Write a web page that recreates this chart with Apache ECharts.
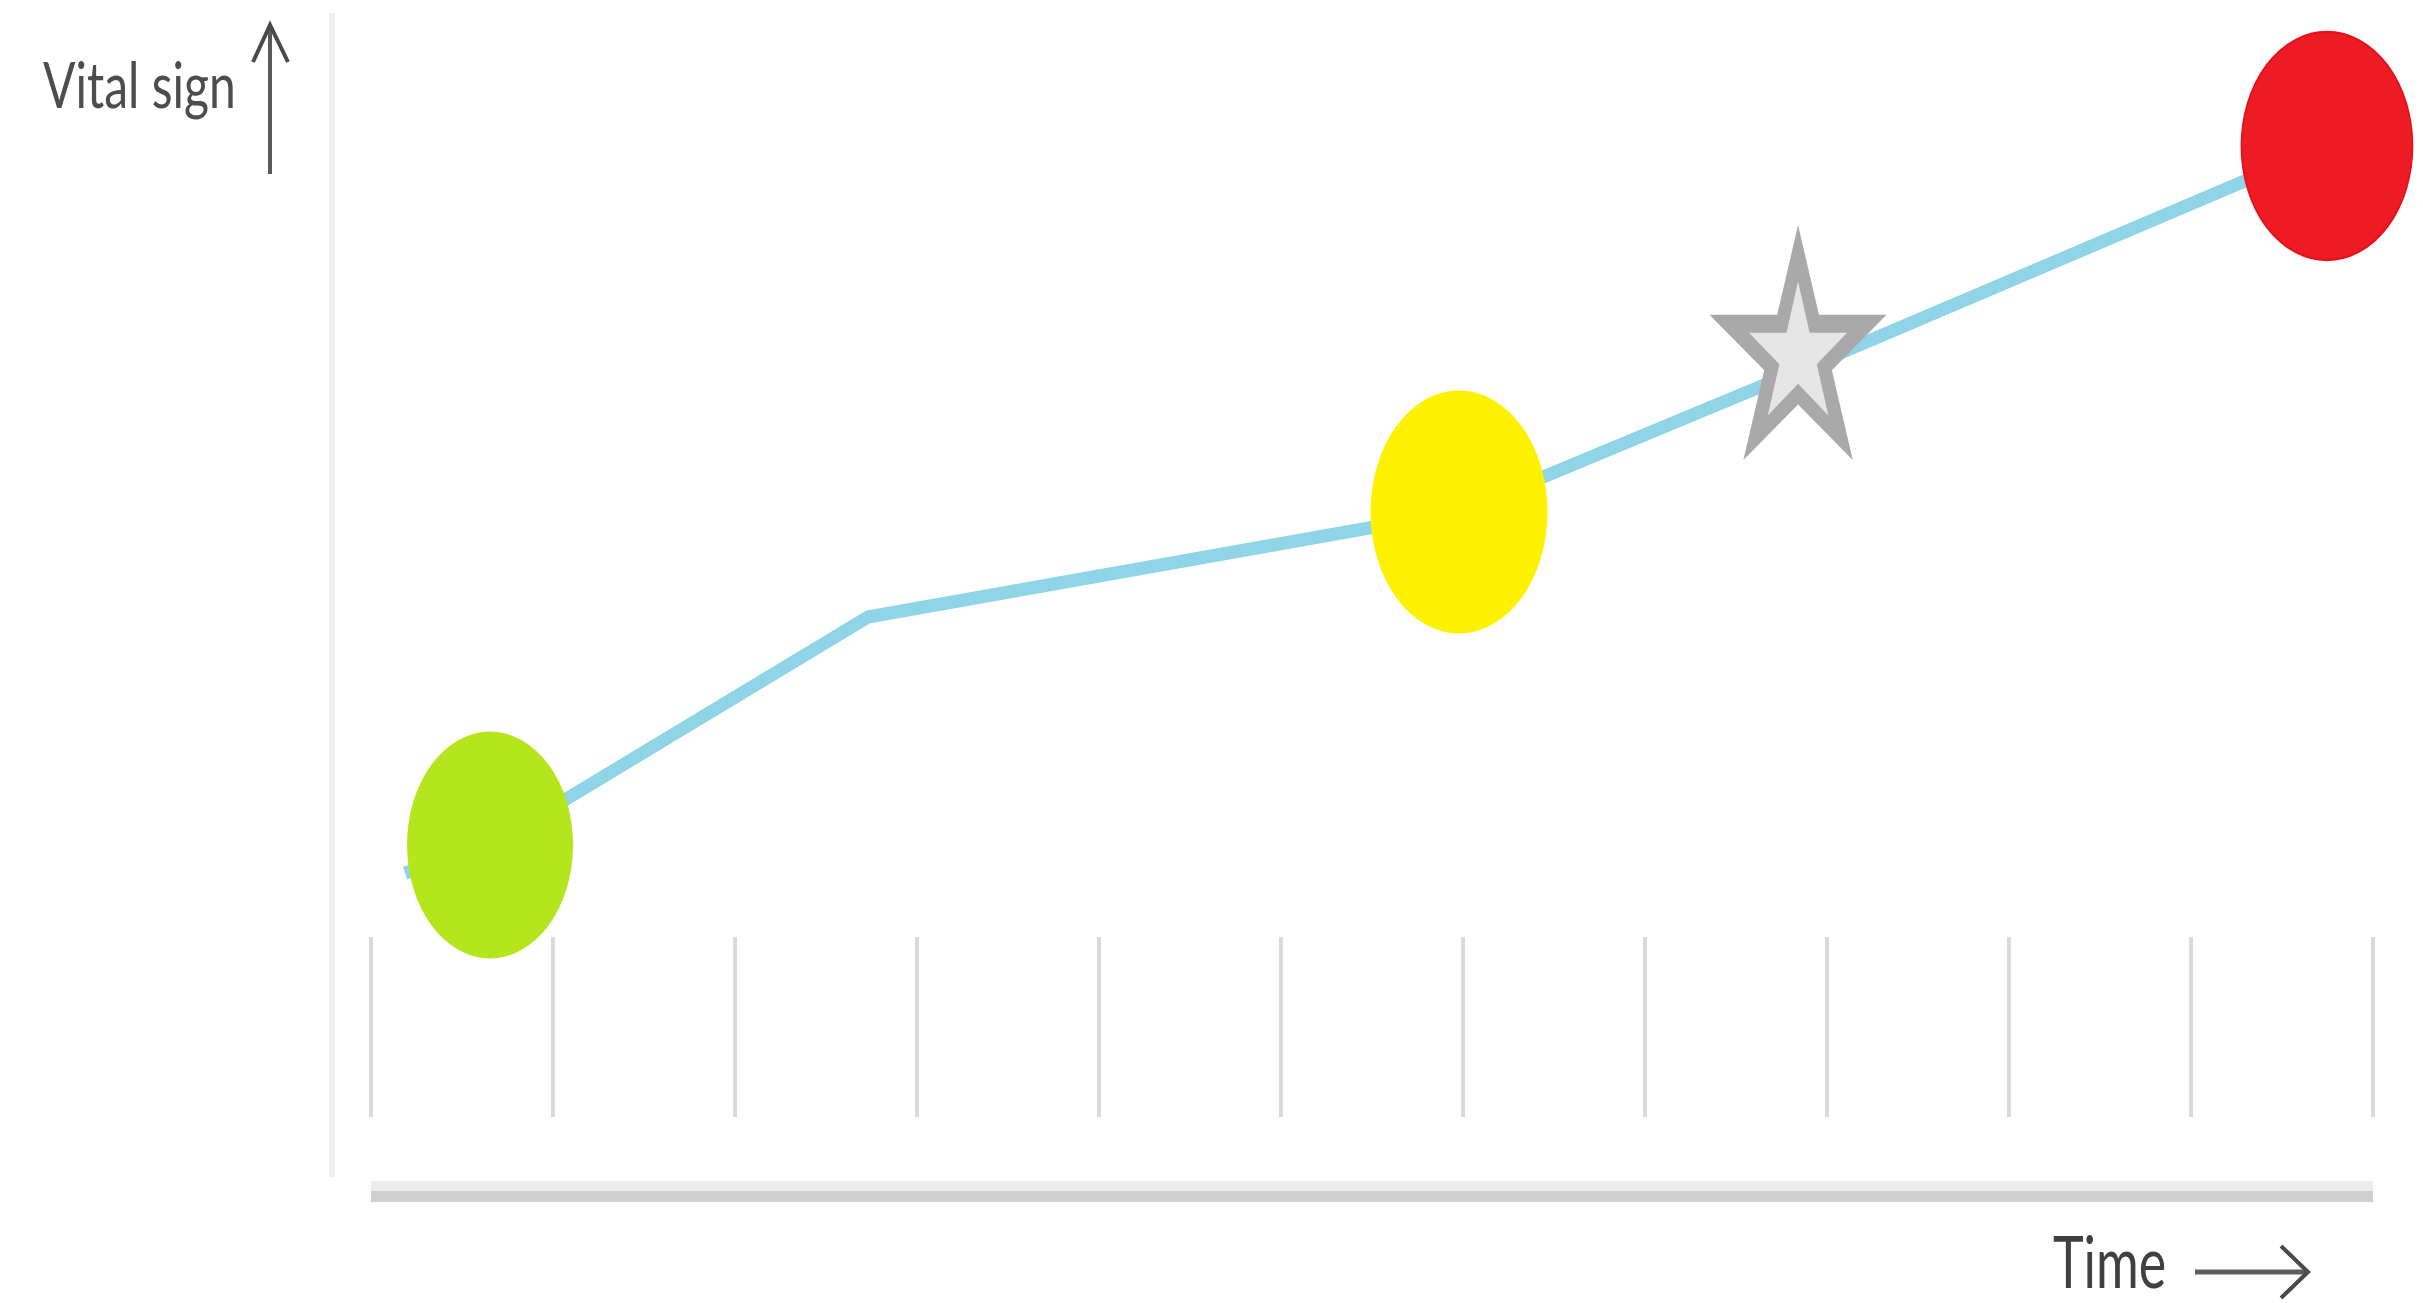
<!DOCTYPE html>
<html>
<head>
<meta charset="utf-8">
<script src="https://cdn.jsdelivr.net/npm/echarts@6/dist/echarts.min.js"></script>
<style>
  html, body { margin: 0; padding: 0; background: #ffffff; }
  #chart { width: 2423px; height: 1303px; }
</style>
</head>
<body>
<div id="chart"></div>
<script>
// ---- data ----
// time in tick units (12 ticks, 0..11), vital sign in arbitrary units
const timeValues  = [0.187, 0.654, 2.731, 5.978, 7.841, 10.747];
const vitalValues = [31.8, 34.6, 57.4, 67.9, 82.0, 104.5];
// event markers: indices into the trend line
const greenIndex = 1;
const yellowIndex = 3;
const redIndex = 5;
// star marker (event)
const starTime = [7.841];
const starVital = [84.85];
// axis titles
const yTitle = 'Vital sign';
const xTitle = 'Time';
const timeTicks = [0, 1, 2, 3, 4, 5, 6, 7, 8, 9, 10, 11];

const ellipsePath = 'path://M0,-100 A100,100 0 1,1 0,100 A100,100 0 1,1 0,-100 Z';
const starPath = 'path://M0,-1000 L224.5,-309 L951,-309 L363.3,118 L587.8,809 L0,382 L-587.8,809 L-363.3,118 L-951,-309 L-224.5,-309 Z';

const linePoints = timeValues.map((t, i) => [t, vitalValues[i]]);
const pt = i => [[timeValues[i], vitalValues[i]]];
const starPoints = starTime.map((t, i) => [t, starVital[i]]);

const chart = echarts.init(document.getElementById('chart'), null, { renderer: 'canvas' });

const option = {
  animation: false,
  backgroundColor: '#ffffff',
  grid: [
    { left: 371, right: 50, top: 91, bottom: 112 },
    { left: 332, top: 13, bottom: 126, width: 10 }
  ],
  xAxis: [
    { // main axis: light part of the thick bar
      gridIndex: 0, type: 'value', min: timeTicks[0], max: timeTicks[timeTicks.length - 1], interval: 1,
      position: 'bottom',
      axisLine: { show: true, lineStyle: { color: '#ececec', width: 20, cap: 'butt' } },
      axisTick: { show: false }, axisLabel: { show: false }, splitLine: { show: false }
    },
    { // tick marks
      gridIndex: 0, type: 'value', min: timeTicks[0], max: timeTicks[timeTicks.length - 1], interval: 1,
      position: 'bottom', offset: -74,
      axisLine: { show: false },
      axisTick: { show: true, inside: true, length: 180, lineStyle: { color: '#dadada', width: 4 } },
      axisLabel: { show: false }, splitLine: { show: false }
    },
    { // dark core of the thick bar
      gridIndex: 0, type: 'value', min: timeTicks[0], max: timeTicks[timeTicks.length - 1], interval: 1,
      position: 'bottom', offset: 5,
      axisLine: { show: true, lineStyle: { color: '#cfcfcf', width: 11, cap: 'butt' } },
      axisTick: { show: false }, axisLabel: { show: false }, splitLine: { show: false }
    },
    { gridIndex: 1, type: 'value', show: false }
  ],
  yAxis: [
    { gridIndex: 0, type: 'value', min: 0, max: 110, show: false },
    {
      gridIndex: 1, type: 'value', min: 0, max: 1,
      axisLine: { show: true, lineStyle: { color: '#efefef', width: 6, cap: 'butt' } },
      axisTick: { show: false }, axisLabel: { show: false }, splitLine: { show: false }
    }
  ],
  series: [
    {
      type: 'line', xAxisIndex: 0, yAxisIndex: 0, data: linePoints,
      symbol: 'none', lineStyle: { color: '#90d4e8', width: 13, join: 'round' },
      silent: true, z: 2
    },
    {
      type: 'scatter', data: pt(greenIndex), symbol: ellipsePath, symbolSize: [166, 227],
      itemStyle: { color: '#b5e61d', opacity: 1 }, silent: true, z: 3
    },
    {
      type: 'scatter', data: pt(yellowIndex), symbol: ellipsePath, symbolSize: [177, 243],
      itemStyle: { color: '#fff200', opacity: 1 }, silent: true, z: 3
    },
    {
      type: 'scatter', data: pt(redIndex), symbol: ellipsePath, symbolSize: [171, 228],
      itemStyle: { color: '#ed1c24', borderColor: '#e8101a', borderWidth: 2, opacity: 1 }, silent: true, z: 3
    },
    {
      type: 'scatter', data: starPoints, symbol: starPath, symbolSize: [177, 235],
      itemStyle: { color: '#a9a9a9', opacity: 1 }, silent: true, z: 4
    },
    {
      type: 'scatter', data: starPoints, symbol: starPath, symbolSize: [98, 134], symbolOffset: [0, 6],
      itemStyle: { color: '#e6e6e6', opacity: 1 }, silent: true, z: 5
    }
  ],
  graphic: [
    {
      type: 'text', x: 43, y: 55, scaleY: 1.33, silent: true,
      style: { text: yTitle, font: '48px Lato', fill: '#4d4d4d' }
    },
    {
      type: 'text', x: 2053, y: 1230, scaleY: 1.36, silent: true,
      style: { text: xTitle, font: '52px Lato', fill: '#404040' }
    },
    { // up arrow shaft
      type: 'line', silent: true,
      shape: { x1: 270, y1: 26, x2: 270, y2: 174 },
      style: { stroke: '#5a5a5a', lineWidth: 4 }
    },
    { // up arrow head
      type: 'polyline', silent: true,
      shape: { points: [[253, 62], [270, 25], [288, 62]] },
      style: { stroke: '#4a4a4a', lineWidth: 4, fill: null }
    },
    { // right arrow shaft
      type: 'line', silent: true,
      shape: { x1: 2195, y1: 1272, x2: 2306, y2: 1272 },
      style: { stroke: '#5e5e5e', lineWidth: 5 }
    },
    { // right arrow head
      type: 'polyline', silent: true,
      shape: { points: [[2281, 1246], [2308, 1272], [2281, 1298]] },
      style: { stroke: '#4a4a4a', lineWidth: 4, fill: null }
    }
  ]
};

chart.setOption(option);
</script>
</body>
</html>
